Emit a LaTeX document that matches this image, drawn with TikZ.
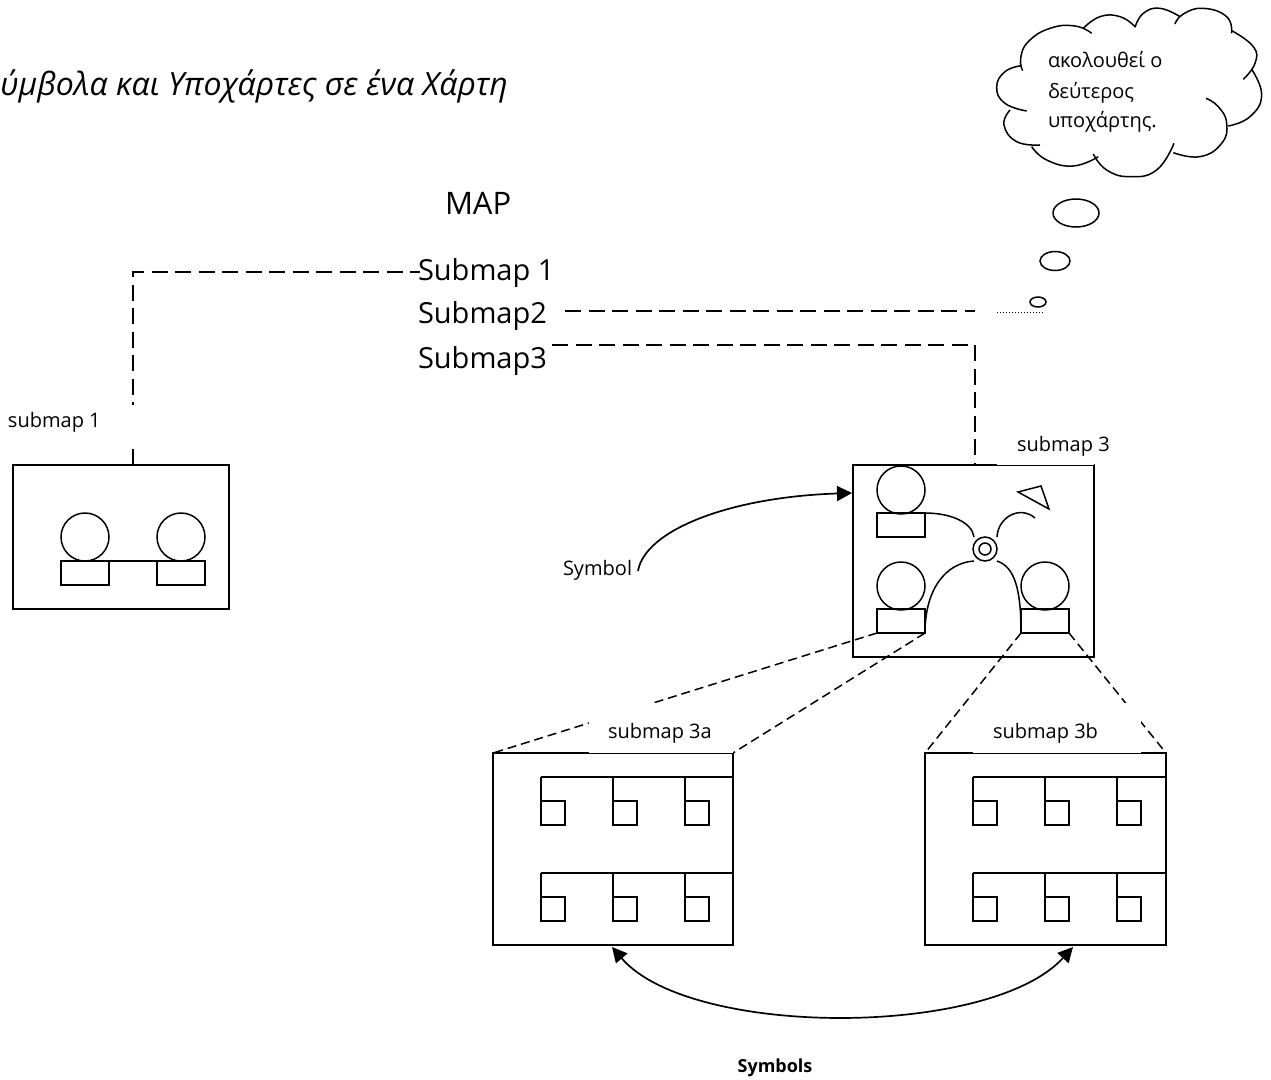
\documentclass[tikz,border=0pt]{standalone}
\usepackage{fontspec}
\setmainfont{Open Sans}
\usetikzlibrary{calc,arrows.meta,shapes.geometric}
\newcommand{\fsz}[1]{\fontsize{#1}{#1}\selectfont}
\tikzset{
	mapbox/.style={draw,line width=1.7pt,inner sep=0pt,outer sep=0pt,anchor=north west},
	symrect/.style={draw,line width=1.5pt,inner sep=0pt,outer sep=0pt,minimum width=48pt,minimum height=24pt,anchor=north west},
	symball/.style={draw,circle,line width=1.5pt,inner sep=0pt,outer sep=0pt,minimum size=48pt},
	symsquare/.style={draw,line width=1.5pt,inner sep=0pt,outer sep=0pt,minimum size=24pt,anchor=north west},
	linkline/.style={line width=1.6pt,dash pattern=on 16pt off 7.5pt},
	zoomline/.style={line width=1.5pt,dash pattern=on 9pt off 5pt},
	thinline/.style={line width=1.5pt},
	bigtext/.style={inner sep=0pt,outer sep=0pt,anchor=base west,font=\fsz{29}},
	smalltext/.style={inner sep=0pt,outer sep=0pt,anchor=base west,font=\fsz{20}},
	maskbox/.style={fill=white,inner sep=0pt,outer sep=0pt,anchor=south west},
	bulge/.style={draw,ellipse,line width=1.5pt,inner sep=0pt,outer sep=0pt},
	cloudline/.style={line width=1.5pt,smooth,tension=0.8},
	bigtip/.tip={Triangle[length=15pt,width=15pt]},
	swoop/.style={line width=1.7pt},
}
\begin{document}
\begin{tikzpicture}[x=1pt,y=-1pt]
	\useasboundingbox (0,0) rectangle (1271,1079);

	\node[inner sep=0pt,anchor=base west,font=\fsz{32}\itshape] (title) at (0,95) {ύμβολα και Υποχάρτες σε ένα Χάρτη};
	\node[bigtext,font=\fsz{31}] (maptext) at (445,214) {MAP};
	\node[bigtext] (textone) at (418,280) {Submap 1};
	\node[bigtext] (texttwo) at (418,323) {Submap2};
	\node[bigtext] (textthree) at (418,368) {Submap3};

	% Dashed links from the list to the maps
	\coordinate (linkone) at (133,465);
	\coordinate (linkonetop) at (133,272);
	\coordinate (linkoneend) at (420,272);
	\coordinate (linktwo) at (565,311);
	\coordinate (linktwoend) at (975,311);
	\coordinate (linkthree) at (552,345);
	\coordinate (linkthreeend) at (975,465);
	\coordinate (dotleft) at (997,312);
	\coordinate (dotright) at (1043,312);
	\draw[linkline] (linkone) -- (linkonetop) -- (linkoneend);
	\draw[linkline] (linktwo) -- (linktwoend);
	\draw[linkline] (linkthree) -| (linkthreeend);
	\draw[line width=1pt,dotted] (dotleft) -- (dotright);

	% Submap 1
	\node[mapbox,minimum width=216pt,minimum height=144pt] (subone) at (13,465) {};
	\node[symball] (ballone) at (85,537) {};
	\node[symball] (balltwo) at (181,537) {};
	\node[symrect] (rectone) at (61,561) {};
	\node[symrect] (recttwo) at (157,561) {};
	\draw[thinline] (rectone.north east) -- (recttwo.north west);
	\node[maskbox,minimum width=128pt,minimum height=44pt,anchor=east] (maskone) at (133.5,427) {};
	\node[smalltext] (labelone) at (8,427) {submap 1};

	% Submap 3
	\node[mapbox,minimum width=241pt,minimum height=192pt] (subthree) at (853,465) {};
	\node[symball] (ballthreea) at (901,490) {};
	\node[symball] (ballthreeb) at (901,586) {};
	\node[symball] (ballthreec) at (1045,586) {};
	\node[symrect] (rectthreea) at (877,513) {};
	\node[symrect] (rectthreeb) at (877,609) {};
	\node[symrect] (rectthreec) at (1021,609) {};
	\node[draw,circle,line width=1.5pt,minimum size=24pt,inner sep=0pt] (ringout) at (985,549) {};
	\node[draw,circle,line width=1.5pt,minimum size=12pt,inner sep=0pt] (ringin) at (985,549) {};
	\draw[line width=1.5pt] (1018,492) -- (1041,486) -- (1049,509) -- cycle;
	\coordinate (arcaend) at (974,537);
	\coordinate (arcbstart) at (997,537);
	\coordinate (arcbend) at (1035,518);
	\coordinate (arccend) at (974,561);
	\coordinate (arcdend) at (997,561);
	\draw[thinline] (rectthreea.north east) .. controls (950,513) and (972,522) .. (arcaend);
	\draw[thinline] (arcbstart) .. controls (998,517) and (1020,505) .. (arcbend);
	\draw[thinline] (rectthreeb.south east) .. controls (925,590) and (945,563) .. (arccend);
	\draw[thinline] (rectthreec.south west) .. controls (1021,590) and (1015,567) .. (arcdend);

	% Submap 3a and 3b
	\foreach \name/\left/\wide in {a/493/240,b/925/241}{
		\node[mapbox,minimum width=\wide pt,minimum height=192pt] (sub\name) at (\left,753) {};
		\foreach \row/\top in {up/777,down/873}{
			\coordinate (rail\name\row) at ({\left+48},\top);
			\coordinate (railend\name\row) at ({\left+\wide},\top);
			\draw[thinline] (rail\name\row) -- (railend\name\row);
			\foreach \col/\off in {p/48,q/120,r/192}{
				\node[symsquare] (sq\name\row\col) at ({\left+\off},{\top+24}) {};
				\coordinate (drop\name\row\col) at ({\left+\off},\top);
				\draw[thinline] (drop\name\row\col) -- (sq\name\row\col.north west);
			}
		}
		\draw[thinline] (railend\name up) -- (railend\name down);
	}

	% Zoom lines down to the detail maps
	\draw[zoomline] (rectthreeb.south west) -- (suba.north west);
	\draw[zoomline] (rectthreeb.south east) -- (suba.north east);
	\draw[zoomline] (rectthreec.south west) -- (subb.north west);
	\draw[zoomline] (rectthreec.south east) -- (subb.north east);

	\node[maskbox,minimum width=144pt,minimum height=50pt] (maska) at (589,752.6) {};
	\node[maskbox,minimum width=168pt,minimum height=50pt] (maskb) at (973,752.6) {};
	\node[maskbox,minimum width=97pt,minimum height=34pt] (maskthree) at (997,464.6) {};
	\node[smalltext] (labela) at (608,738) {submap 3a};
	\node[smalltext] (labelb) at (993,738) {submap 3b};
	\node[smalltext] (labelthree) at (1017,451) {submap 3};

	% Symbol arrows
	\node[smalltext] (symboltext) at (563,575) {Symbol};
	\coordinate (symbolstart) at (638,571);
	\coordinate (symboltip) at (852,493);
	\draw[swoop,-{bigtip}] (symbolstart) .. controls (645,530) and (730,497) .. (symboltip);
	\coordinate (arrowa) at (612,947);
	\coordinate (arrowb) at (1073,947);
	\draw[swoop,{bigtip}-{bigtip}] (arrowa) .. controls (690,1038) and (990,1038) .. (arrowb);
	\node[inner sep=0pt,font=\fsz{18}\bfseries] (symbolstext) at (775,1068) {Symbols};

	% Thought cloud
	\begin{scope}[shift={(980,0)},x=0.3333pt,y=-0.3333pt]
		\draw[cloudline] plot coordinates {(335,100) (285,78) (210,85) (145,125) (122,175) (128,212)};
		\draw[cloudline] plot coordinates {(125,197) (75,215) (50,262) (75,310) (140,333)};
		\draw[cloudline] plot coordinates {(90,330) (72,375) (110,425) (180,435)};
		\draw[cloudline] plot coordinates {(155,440) (200,480) (280,498) (355,470)};
		\draw[cloudline] plot coordinates {(340,462) (380,510) (450,530) (530,510) (582,430)};
		\draw[cloudline] plot coordinates {(580,458) (660,470) (725,430) (740,370) (715,320) (678,295)};
		\draw[cloudline] plot coordinates {(745,378) (810,350) (845,285) (815,208)};
		\draw[cloudline] plot coordinates {(790,238) (825,190) (820,140) (755,92)};
		\draw[cloudline] plot coordinates {(755,100) (740,50) (670,25) (610,42) (585,72)};
		\draw[cloudline] plot coordinates {(600,50) (540,25) (490,40) (465,82)};
		\draw[cloudline] plot coordinates {(465,80) (420,50) (360,50) (310,85)};
	\end{scope}
	\node[smalltext] (cloudone) at (1048,67) {ακολουθεί ο};
	\node[smalltext] (cloudtwo) at (1048,98) {δεύτερος};
	\node[smalltext] (cloudthree) at (1048,127) {υποχάρτης.};
	\node[bulge,minimum width=46pt,minimum height=28pt] (bulgea) at (1076,213) {};
	\node[bulge,minimum width=30pt,minimum height=19pt] (bulgeb) at (1055,261) {};
	\node[bulge,minimum width=16pt,minimum height=10pt] (bulgec) at (1038,302) {};
\end{tikzpicture}
\end{document}
